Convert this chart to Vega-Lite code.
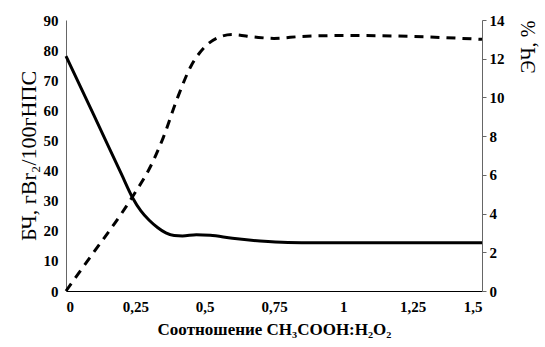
{
  "$schema": "https://vega.github.io/schema/vega-lite/v6.json",
  "width": 416,
  "height": 271,
  "autosize": {"type": "none"},
  "padding": {"left": 66, "top": 20, "right": 63, "bottom": 56},
  "background": "white",
  "config": {
    "view": {"stroke": null},
    "style": {"guide-label": {"font": "Liberation Serif", "fontWeight": "bold"}, "guide-title": {"font": "Liberation Serif"}},
    "axis": {"grid": false, "labelFont": "Liberation Serif", "labelFontWeight": "bold", "labelFontSize": 15, "labelColor": "black", "titleFont": "Liberation Serif", "titleColor": "black"}
  },
  "datasets": {
    "bch": [
      {"x": 0, "v": 78},
      {"x": 0.1, "v": 58.5},
      {"x": 0.2, "v": 38.8},
      {"x": 0.24, "v": 31},
      {"x": 0.27, "v": 26.6},
      {"x": 0.3, "v": 23.5},
      {"x": 0.33, "v": 21.1},
      {"x": 0.36, "v": 19.3},
      {"x": 0.39, "v": 18.4},
      {"x": 0.42, "v": 18.3},
      {"x": 0.47, "v": 18.7},
      {"x": 0.52, "v": 18.5},
      {"x": 0.6, "v": 17.5},
      {"x": 0.7, "v": 16.6},
      {"x": 0.8, "v": 16.1},
      {"x": 0.9, "v": 16},
      {"x": 1.5, "v": 16}
    ],
    "ech": [
      {"x": 0, "v": 0},
      {"x": 0.1, "v": 2.0},
      {"x": 0.2, "v": 4.0},
      {"x": 0.25, "v": 5.1},
      {"x": 0.3, "v": 6.3},
      {"x": 0.35, "v": 7.9},
      {"x": 0.4, "v": 9.9},
      {"x": 0.45, "v": 11.6},
      {"x": 0.5, "v": 12.6},
      {"x": 0.55, "v": 13.1},
      {"x": 0.6, "v": 13.25},
      {"x": 0.68, "v": 13.12},
      {"x": 0.75, "v": 13.05},
      {"x": 0.85, "v": 13.15},
      {"x": 1, "v": 13.2},
      {"x": 1.25, "v": 13.15},
      {"x": 1.5, "v": 13.0}
    ]
  },
  "layer": [
    {
      "data": {"name": "bch"},
      "mark": {"type": "line", "color": "black", "strokeWidth": 3, "interpolate": "monotone"},
      "encoding": {
        "x": {"field": "x", "type": "quantitative", "scale": {"domain": [0, 1.5], "nice": false},
          "axis": {"values": [0, 0.25, 0.5, 0.75, 1, 1.25, 1.5], "labelExpr": "replace(toString(datum.value), '.', ',')", "labelFont": "Liberation Serif", "labelFontWeight": "bold", "ticks": false, "domainColor": "black", "domainWidth": 1, "labelPadding": 8, "title": "Соотношение CH₃COOH:H₂O₂", "titleFont": "Liberation Serif", "titleFontWeight": "bold", "titleFontSize": 17, "titlePadding": 7}},
        "y": {"field": "v", "type": "quantitative", "scale": {"domain": [0, 90], "nice": false},
          "axis": {"values": [0, 10, 20, 30, 40, 50, 60, 70, 80, 90], "labelFont": "Liberation Serif", "labelFontWeight": "bold", "ticks": false, "domainColor": "#666666", "labelPadding": 8, "title": "БЧ, гBr₂/100гНПС", "titleFont": "Liberation Serif", "titleFontWeight": "normal", "titleFontSize": 22, "titlePadding": 3}}
      }
    },
    {
      "data": {"name": "ech"},
      "mark": {"type": "line", "color": "black", "strokeWidth": 3, "strokeDash": [9, 7], "interpolate": "monotone"},
      "encoding": {
        "x": {"field": "x", "type": "quantitative", "scale": {"domain": [0, 1.5], "nice": false}},
        "y": {"field": "v", "type": "quantitative", "scale": {"domain": [0, 14], "nice": false},
          "axis": {"orient": "right", "values": [0, 2, 4, 6, 8, 10, 12, 14], "labelFont": "Liberation Serif", "labelFontWeight": "bold", "ticks": true, "tickSize": 4, "tickColor": "#666666", "domainColor": "#666666", "labelPadding": 3, "title": "ЭЧ, %", "titleFont": "Liberation Serif", "titleFontWeight": "normal", "titleFontSize": 20, "titleAnchor": "end", "titleAlign": "right", "titleAngle": 270, "titleBaseline": "top", "titlePadding": 14}}
      }
    }
  ],
  "resolve": {"scale": {"y": "independent"}}
}
